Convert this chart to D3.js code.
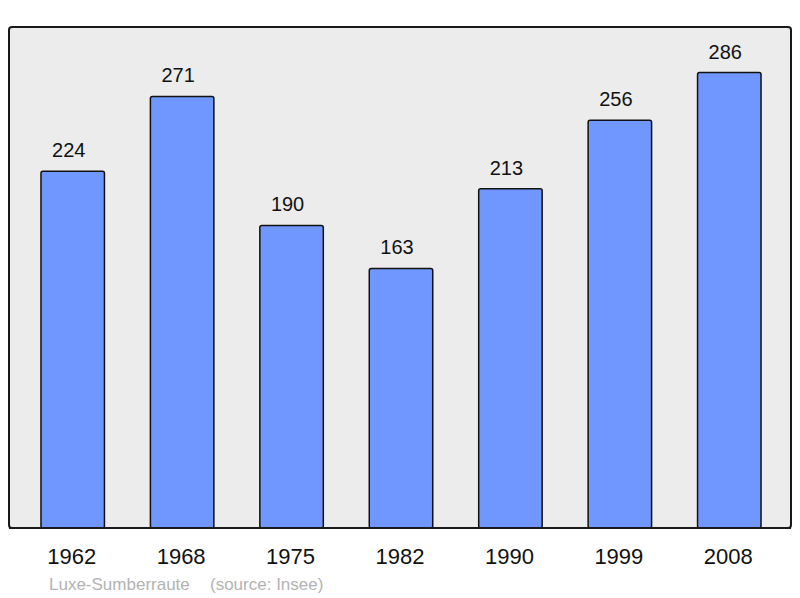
<!DOCTYPE html>
<html>
<head>
<meta charset="utf-8">
<script src="https://cdn.jsdelivr.net/npm/d3@7"></script>
<style>
  body { margin: 0; background: #fff; }
  svg text { font-family: "Liberation Sans", Arial, sans-serif; }
</style>
</head>
<body>
<svg id="chart" width="800" height="598"></svg>
<script>
var years = ['1962', '1968', '1975', '1982', '1990', '1999', '2008'];
var population = [224, 271, 190, 163, 213, 256, 286];
var commune = 'Luxe-Sumberraute';
var source = '(source: Insee)';

var svg = d3.select('#chart');

var panel = { left: 9, top: 27, right: 791, bottom: 528 };

svg.append('rect')
  .attr('x', panel.left).attr('y', panel.top)
  .attr('width', panel.right - panel.left)
  .attr('height', panel.bottom - panel.top)
  .attr('rx', 3)
  .attr('fill', '#ececec')
  .attr('stroke', '#1a1a1a')
  .attr('stroke-width', 2);

var x = d3.scaleBand()
  .domain(years)
  .range([18, 784])
  .paddingInner(0.42)
  .paddingOuter(0.21);

var y = d3.scaleLinear()
  .domain([0, d3.max(population) * 1.1])
  .range([panel.bottom, panel.top]);

var rows = years.map(function (yr, i) { return { year: yr, value: population[i] }; });

svg.append('g').selectAll('rect')
  .data(rows)
  .enter().append('rect')
  .attr('x', function (d) { return x(d.year); })
  .attr('y', function (d) { return y(d.value); })
  .attr('width', x.bandwidth())
  .attr('height', function (d) { return y(0) - y(d.value); })
  .attr('rx', 2)
  .attr('fill', '#7097ff')
  .attr('stroke', '#111')
  .attr('stroke-width', 1.5);

// value labels sit a little left of the bar centre in the original
svg.append('g').selectAll('text')
  .data(rows)
  .enter().append('text')
  .attr('x', function (d) { return x(d.year) + x.bandwidth() / 2 - 4; })
  .attr('y', function (d) { return y(d.value) - 14; })
  .attr('text-anchor', 'middle')
  .attr('font-size', 20)
  .attr('fill', '#111')
  .text(function (d) { return d.value; });

// redraw bottom border over the bars
svg.append('line')
  .attr('x1', panel.left).attr('x2', panel.right)
  .attr('y1', panel.bottom).attr('y2', panel.bottom)
  .attr('stroke', '#1a1a1a')
  .attr('stroke-width', 2);

svg.append('g').selectAll('text')
  .data(years)
  .enter().append('text')
  .attr('x', function (d) { return x(d) + x.bandwidth() / 2 - 1; })
  .attr('y', 564)
  .attr('text-anchor', 'middle')
  .attr('font-size', 22)
  .attr('fill', '#111')
  .text(function (d) { return d; });

svg.append('text')
  .attr('x', 49).attr('y', 590)
  .attr('font-size', 17)
  .attr('fill', '#b3b3b3')
  .text(commune);

svg.append('text')
  .attr('x', 210).attr('y', 590)
  .attr('font-size', 17)
  .attr('fill', '#b3b3b3')
  .text(source);
</script>
</body>
</html>
